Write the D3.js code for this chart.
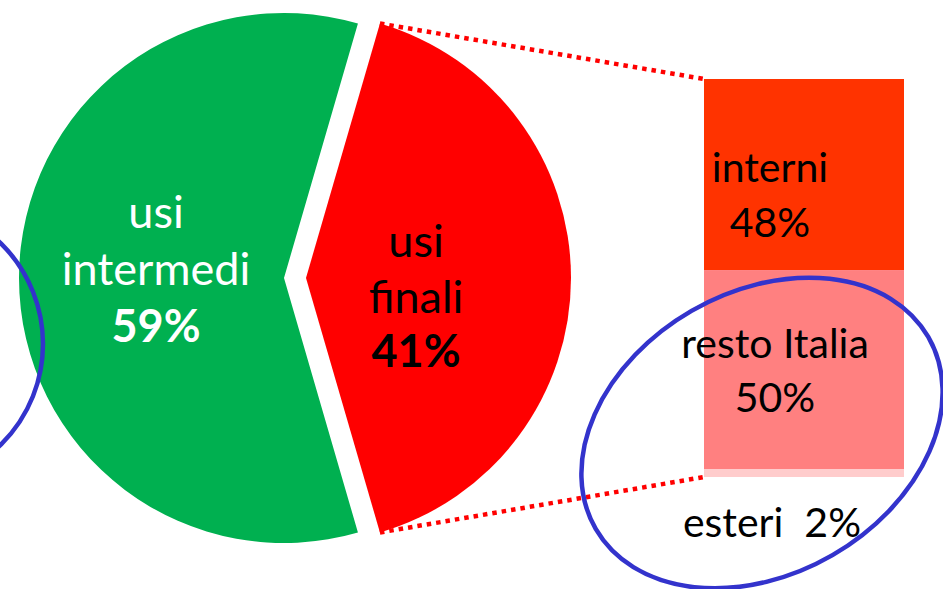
<!DOCTYPE html>
<html><head><meta charset="utf-8">
<script src="https://cdn.jsdelivr.net/npm/d3@7"></script>
<style>
html,body{margin:0;padding:0;background:#fff;}
svg{display:block;font-family:Lato,"Open Sans",sans-serif;}
text{white-space:pre;}
</style></head>
<body>
<svg id="chart" width="943" height="589"></svg>
<script>
// ---- data ----
const pieCategories = ["usi intermedi", "usi finali"];
const pieValues = [59, 41];
const pieLabelLines = [["usi", "intermedi", "59%"], ["usi", "finali", "41%"]];
const barCategories = ["interni", "resto Italia", "esteri"];
const barValues = [48, 50, 2];
const barLabelLines = [["interni", "48%"], ["resto Italia", "50%"], ["esteri  2%"]];

(function () {
// ---- layout ----
const svg = d3.select("#chart");
const pieColors = d3.scaleOrdinal().domain(pieCategories).range(["#00B050", "#FF0000"]);
const barColors = d3.scaleOrdinal().domain(barCategories).range(["#FF3300", "#FF8080", "#FFCCCC"]);

const cx = 284, cy = 278, R = 265;
const explode = [0, 22];
const pFinal = pieValues[1] / d3.sum(pieValues);
const start = Math.PI / 2 + pFinal * Math.PI;
const pie = d3.pie().sort(null).startAngle(start).endAngle(start + 2 * Math.PI);
const arcs = pie(pieValues);
const arc = d3.arc().innerRadius(0).outerRadius(R);

const g = svg.append("g");
const slices = g.selectAll("g.slice").data(arcs).enter().append("g")
  .attr("transform", (d, i) => {
    const mid = (d.startAngle + d.endAngle) / 2;
    return `translate(${cx + explode[i] * Math.sin(mid)},${cy - explode[i] * Math.cos(mid)})`;
  });
slices.append("path").attr("d", arc).attr("fill", (d, i) => pieColors(pieCategories[i]));

// bar
const barX0 = 704, barX1 = 904;
const total = d3.sum(barValues);
const y = d3.scaleLinear().domain([0, total]).range([79, 477]);
let acc = 0;
const stacked = barValues.map((v, i) => { const s = { cat: barCategories[i], y0: acc, y1: acc + v }; acc += v; return s; });
svg.selectAll("rect.bar").data(stacked).enter().append("rect")
  .attr("x", barX0).attr("width", barX1 - barX0)
  .attr("y", d => y(d.y0))
  .attr("height", d => y(d.y1) - y(d.y0))
  .attr("fill", d => barColors(d.cat));

// connector lines
const fin = arcs[1];
const fmid = (fin.startAngle + fin.endAngle) / 2;
const fcx = cx + explode[1] * Math.sin(fmid), fcy = cy - explode[1] * Math.cos(fmid);
const pt = a => [fcx + R * Math.sin(a), fcy - R * Math.cos(a)];
const pa = pt(fin.startAngle), pb = pt(fin.endAngle);
const upper = pa[1] < pb[1] ? pa : pb, lower = pa[1] < pb[1] ? pb : pa;
[[upper, [barX0, y(0)]], [lower, [barX0, y(total)]]].forEach(([p, q]) => {
  svg.append("line").attr("x1", p[0]).attr("y1", p[1]).attr("x2", q[0]).attr("y2", q[1])
    .attr("stroke", "#FF0000").attr("stroke-width", 4.5).attr("stroke-dasharray", "4.5,5");
});

// pie labels
const pieLabelPos = [{ x: 156, y: [228, 285, 342], fill: "#fff" }, { x: 416, y: [257, 313, 367], fill: "#000" }];
pieLabelLines.forEach((lines, i) => {
  lines.forEach((t, j) => {
    svg.append("text").attr("x", pieLabelPos[i].x).attr("y", pieLabelPos[i].y[j])
      .attr("text-anchor", "middle").attr("font-size", 45)
      .attr("font-weight", j === 2 ? "bold" : "normal")
      .attr("fill", pieLabelPos[i].fill).text(t);
  });
});

// bar labels
const barLabelPos = [{ x: 770, y: [182, 237] }, { x: 775, y: [358, 412] }, { x: 772, y: [537] }];
barLabelLines.forEach((lines, i) => {
  lines.forEach((t, j) => {
    svg.append("text").attr("x", barLabelPos[i].x).attr("y", barLabelPos[i].y[j])
      .attr("text-anchor", "middle").attr("font-size", 41).attr("fill", "#000").text(t);
  });
});

// blue annotation ellipses
svg.append("ellipse").attr("cx", 762).attr("cy", 433).attr("rx", 192).attr("ry", 141)
  .attr("transform", "rotate(-30,762,433)")
  .attr("fill", "none").attr("stroke", "#3333CC").attr("stroke-width", 4.5);
svg.append("ellipse").attr("cx", -100).attr("cy", 344).attr("rx", 143).attr("ry", 142)
  .attr("fill", "none").attr("stroke", "#3333CC").attr("stroke-width", 4.5);
})();
</script>
</body></html>
